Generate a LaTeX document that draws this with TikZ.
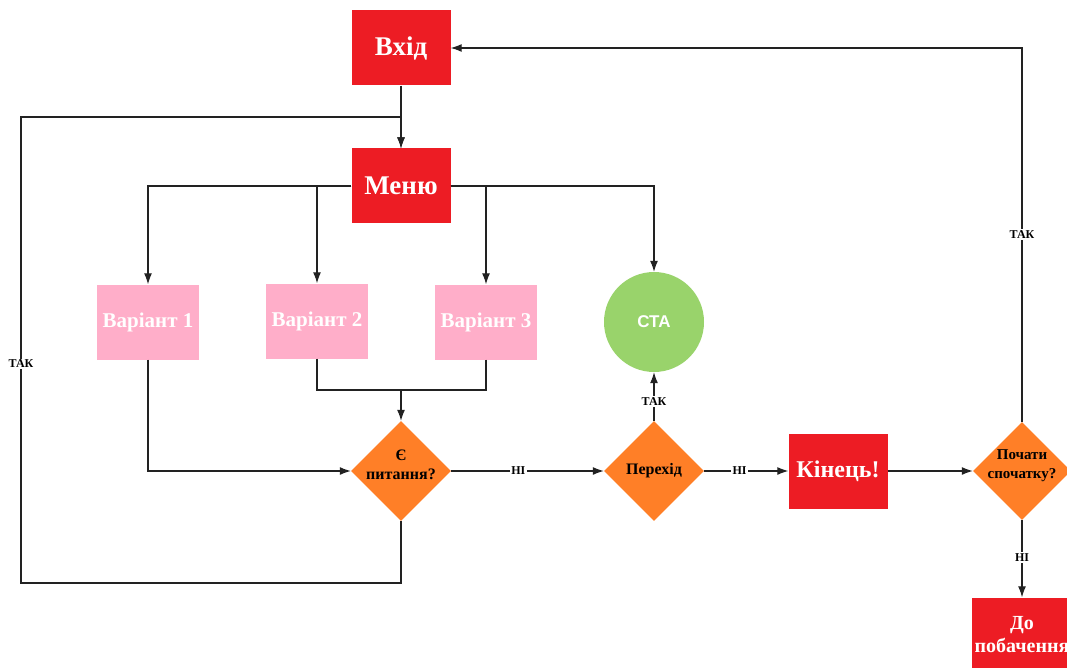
\documentclass[tikz,border=0pt]{standalone}
\usepackage{fontspec}
\setmainfont{Liberation Serif}
\newfontfamily\stafont{Liberation Sans}
\usepackage{xcolor}
\usetikzlibrary{positioning,arrows.meta,shapes.geometric}

\definecolor{boxred}{HTML}{ED1C24}
\definecolor{boxpink}{HTML}{FFAEC9}
\definecolor{decorange}{HTML}{FF7F27}
\definecolor{stagreen}{HTML}{99D36B}
\definecolor{linegray}{HTML}{222222}

\begin{document}
\begin{tikzpicture}[
  x=1pt, y=-1pt,
  font=\bfseries,
  box/.style={draw=none, align=center, inner sep=2pt},
  redbox/.style={box, fill=boxred, text=white, minimum width=99pt,
                 minimum height=75pt, font=\fontsize{27}{30}\selectfont\bfseries},
  varbox/.style={box, fill=boxpink, text=white, minimum width=102pt,
                 minimum height=75pt, font=\fontsize{21}{24}\selectfont\bfseries},
  dec/.style={diamond, draw=none, fill=decorange, minimum width=100pt,
              minimum height=100pt, inner sep=0pt, aspect=1},
  dtxt/.style={align=center, text=black, font=\fontsize{16}{19}\selectfont\bfseries},
  lbl/.style={fill=white, inner sep=1.5pt, font=\fontsize{12}{14}\selectfont\bfseries},
  arr/.style={-{Latex[length=11pt, width=8pt]}, line width=1.1pt, draw=linegray},
  ln/.style={line width=1.1pt, draw=linegray}]

\clip (0,0) rectangle (1067,668);
\useasboundingbox (0,0) rectangle (1067,668);

% Top: entry and menu.
\node[redbox] (vhid) at (401,48) {Вхід};
\node[redbox] (menu) at (401,186) {Меню};

% Middle row: the three variants and the test.
\node[varbox] (var1) at (148,322) {Варіант 1};
\node[varbox] (var2) at (317,321) {Варіант 2};
\node[varbox] (var3) at (486,322) {Варіант 3};
\node[circle, fill=stagreen, text=white, minimum size=100pt, inner sep=0pt,
      font=\stafont\fontsize{17}{20}\selectfont\bfseries] (sta) at (654,322) {СТА};

% Bottom row: decisions.
\node[dec, label={[dtxt, yshift=6pt]center:Є\\питання?}] (q) at (401,471) {};
\node[dec, label={[dtxt]center:Перехід}] (pere) at (654,471) {};
\node[redbox, font=\fontsize{24}{27}\selectfont\bfseries] (kin) at (838,471) {Кінець!};
\node[dec, minimum width=98pt, minimum height=98pt,
      label={[dtxt, font=\fontsize{15}{19}\selectfont\bfseries, yshift=5pt]center:Почати\\спочатку?}]
  (again) at (1022,471) {};
\node[redbox, minimum width=100pt, font=\fontsize{20}{23}\selectfont\bfseries]
  (bye) at (1022,635) {До\\побачення};

\coordinate (bl) at (21,583);
\coordinate (tl) at (21,117);
\coordinate (join) at (401,390);

% Connectors.
\draw[arr] (vhid) -- (menu);
\draw[arr] (q.south) |- (bl) -- node[lbl, pos=0.47] {ТАК} (tl) -| (menu.north);
\draw[arr] (menu.west) -| (var1.north);
\draw[arr] (menu.west) -| (var2.north);
\draw[arr] (menu.east) -| (var3.north);
\draw[arr] (menu.east) -| (sta.north);
\draw[arr] (var1.south) |- (q.west);
\draw[ln] (var3.south) |- (join);
\draw[arr] (var2.south) |- (join) -- (q.north);
\draw[arr] (q.east) -- node[lbl, pos=0.44] {НІ} (pere.west);
\draw[arr] (pere.north) -- node[lbl, pos=0.4] {ТАК} (sta.south);
\draw[arr] (pere.east) -- node[lbl, pos=0.42] {НІ} (kin.west);
\draw[arr] (kin.east) -- (again.west);
\draw[arr] (again.north) |- node[lbl, pos=0.25] {ТАК} (vhid.east);
\draw[arr] (again.south) -- node[lbl, pos=0.48] {НІ} (bye.north);
\end{tikzpicture}
\end{document}
